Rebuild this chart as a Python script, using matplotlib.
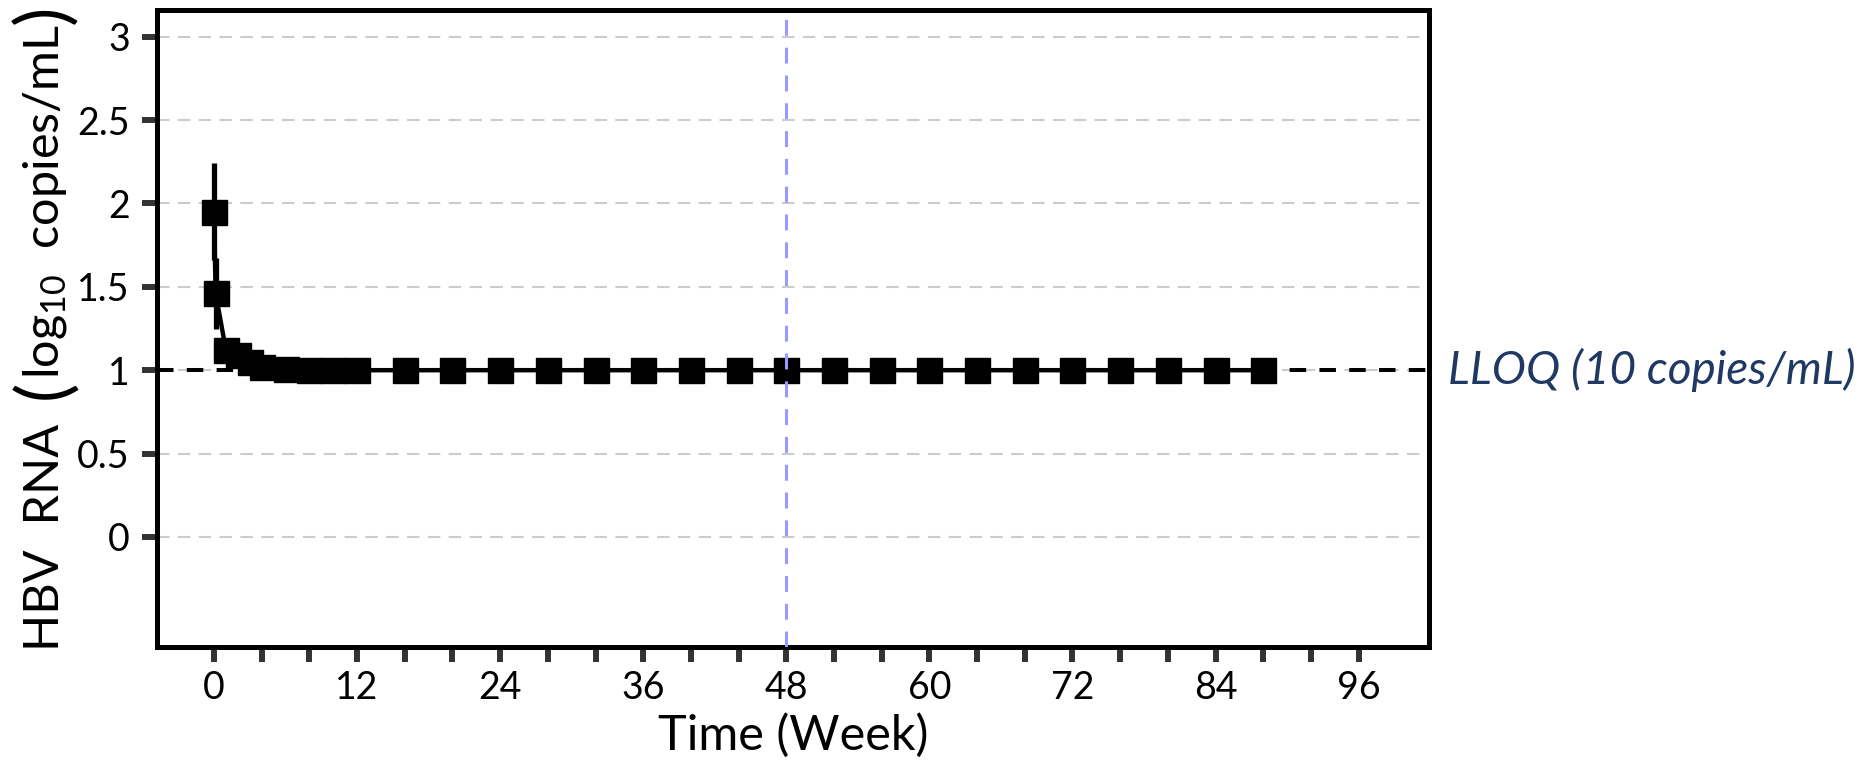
import matplotlib
matplotlib.use("Agg")
import matplotlib.pyplot as plt
import matplotlib.transforms as mtransforms

# ---- data ----
weeks = [0, 0.14, 1, 2, 3, 4, 6, 8, 10, 12,
         16, 20, 24, 28, 32, 36, 40, 44, 48, 52, 56, 60, 64, 68, 72, 76, 80, 84, 88]
hbv_rna = [1.95, 1.46, 1.12, 1.09, 1.05, 1.02, 1.01, 1.0, 1.0, 1.0,
           1.0, 1.0, 1.0, 1.0, 1.0, 1.0, 1.0, 1.0, 1.0, 1.0, 1.0, 1.0, 1.0, 1.0, 1.0, 1.0, 1.0, 1.0, 1.0]
hbv_err = [0.29, 0.21, 0.03, 0.02, 0.01, 0.01, 0.0, 0.0, 0.0, 0.0,
           0, 0, 0, 0, 0, 0, 0, 0, 0, 0, 0, 0, 0, 0, 0, 0, 0, 0, 0]
x_ticks = [0, 12, 24, 36, 48, 60, 72, 84, 96]
x_minor = [4, 8, 16, 20, 28, 32, 40, 44, 52, 56, 64, 68, 76, 80, 88, 92]
y_ticks = [0, 0.5, 1, 1.5, 2, 2.5, 3]
y_tick_labels = ["0", "0.5", "1", "1.5", "2", "2.5", "3"]
lloq = 1.0
ref_week = 48
lloq_label = "LLOQ (10 copies/mL)"
xlabel = "Time (Week)"
ylabel_parts = ["HBV  RNA  ", "(", "log$_{10}$  copies/mL", ")"]

plt.rcParams['font.family'] = ['Lato', 'DejaVu Sans']
plt.rcParams['mathtext.fontset'] = 'custom'
plt.rcParams['mathtext.rm'] = 'Lato'
plt.rcParams['mathtext.it'] = 'Lato:italic'
plt.rcParams['mathtext.bf'] = 'Lato:bold'

W, H = 1863, 761
fig = plt.figure(figsize=(W / 100, H / 100), dpi=100)
ax = fig.add_axes([157 / W, 1 - 647 / H, (1429 - 157) / W, (647 - 10) / H])

ax.set_xlim(-4.78, 101.9)
ax.set_ylim(-0.66, 3.16)

# grid
for yv in y_ticks:
    ax.axhline(yv, color='#cccccc', lw=1.5, ls=(0, (6, 4)), zorder=0)

# LLOQ dashed line
ax.axhline(lloq, color='black', lw=2.9, ls=(0, (4.1, 3.3)), zorder=1)
# vertical reference
ax.axvline(ref_week, color='#9999ff', lw=2.2, ls=(0, (5.2, 3.9)), zorder=4)

ax.errorbar(weeks, hbv_rna, yerr=hbv_err, fmt='-', color='black', lw=3.2,
            elinewidth=3.8, capsize=0, zorder=2)
ax.plot(weeks, hbv_rna, 's', color='black', markersize=18, zorder=3)

ax.set_xticks(x_ticks)
ax.set_xticks(x_minor, minor=True)
ax.set_yticks(y_ticks)
ax.set_yticklabels(y_tick_labels)
ax.tick_params(axis='both', which='both', length=10.5, width=4.3, color='#333333',
               direction='out', labelsize=27)
ax.tick_params(axis='x', which='both', pad=6)
ax.tick_params(axis='y', which='both', pad=9)

for sp in ax.spines.values():
    sp.set_linewidth(3.6)
    sp.set_color('black')

ax.set_xlabel(xlabel, fontsize=35, labelpad=5)

trans = mtransforms.blended_transform_factory(ax.transAxes, ax.transData)
ax.annotate(lloq_label, xy=(1.0, lloq), xycoords=trans, xytext=(14, 0),
            textcoords='offset points', ha='left', va='center',
            fontsize=33, style='italic', color='#1f3864', annotation_clip=False)

# y label assembled from pieces so that the parentheses are large
styles = [dict(fontsize=35), dict(fontsize=52),
          dict(fontsize=35), dict(fontsize=52)]
renderer = fig.canvas.get_renderer()
x_anchor = 45 / W
texts = []
for part, st in zip(ylabel_parts, styles):
    t = fig.text(x_anchor, 0, part, rotation=90, rotation_mode='anchor',
                 ha='left', va='center', **st)
    texts.append(t)
lengths = [t.get_window_extent(renderer).height for t in texts]
total = sum(lengths)
y0 = (H - 328) - total / 2
for t, L in zip(texts, lengths):
    t.set_y(y0 / H)
    y0 += L

fig.savefig("out.png", dpi=100)
